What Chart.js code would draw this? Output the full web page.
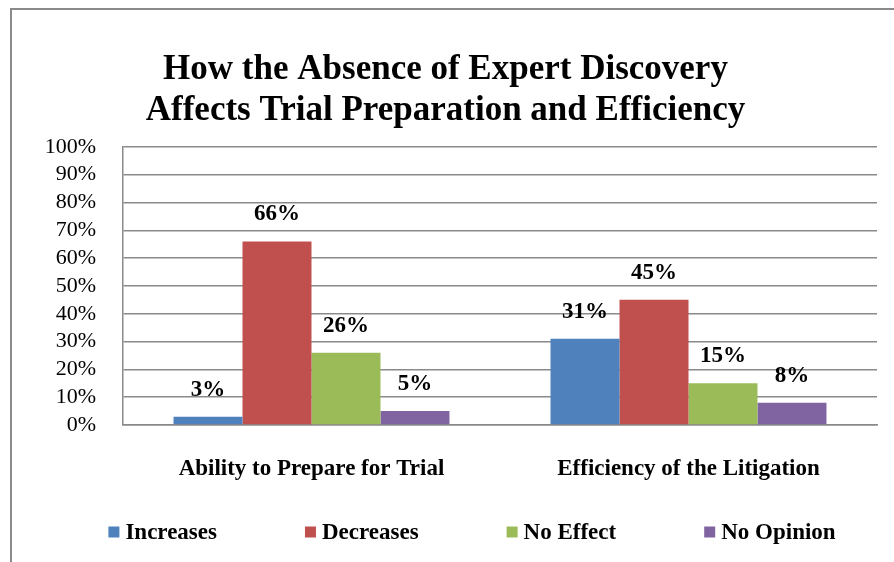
<!DOCTYPE html>
<html>
<head>
<meta charset="utf-8">
<script src="https://cdn.jsdelivr.net/npm/chart.js@4.4.0/dist/chart.umd.min.js"></script>
<style>
  html, body { margin: 0; padding: 0; background: #fff; }
  #wrap { position: relative; width: 894px; height: 562px; overflow: hidden; }
  #frame {
    position: absolute; left: 10px; top: 8px; width: 1000px; height: 700px;
    border-left: 2px solid #8a8a8a; border-top: 2px solid #8a8a8a;
  }
  #chart { position: absolute; left: 0; top: 0; }
</style>
</head>
<body>
<div id="wrap">
  <div id="frame"></div>
  <canvas id="chart" width="894" height="562"></canvas>
</div>
<script>
/************************************************************
 * DATA
 ************************************************************/
const categories = ["Ability to Prepare for Trial", "Efficiency of the Litigation"];
const seriesNames = ["Increases", "Decreases", "No Effect", "No Opinion"];
const increases = [3, 31];
const decreases = [66, 45];
const noEffect = [26, 15];
const noOpinion = [5, 8];
const tickLabels = ["0%", "10%", "20%", "30%", "40%", "50%", "60%", "70%", "80%", "90%", "100%"];

const colors = ["#4F81BD", "#C0504D", "#9BBB59", "#8064A2"];
const SERIF = "'Liberation Serif', 'Times New Roman', serif";
const GRID = "#8a8a8a";

// value labels above each bar
const barLabels = {
  id: "barLabels",
  afterDatasetsDraw(chart) {
    const ctx = chart.ctx;
    ctx.save();
    ctx.font = `bold 23px ${SERIF}`;
    ctx.fillStyle = "#000";
    ctx.textAlign = "center";
    ctx.textBaseline = "middle";
    chart.data.datasets.forEach((ds, i) => {
      chart.getDatasetMeta(i).data.forEach((bar, j) => {
        ctx.fillText(ds.data[j] + "%", bar.x, bar.y - 27);
      });
    });
    ctx.restore();
  },
};

// legend along the bottom, Excel style
const bottomLegend = {
  id: "bottomLegend",
  afterDraw(chart) {
    const ctx = chart.ctx;
    const box = 11, gap = 6, spacing = 88;
    ctx.save();
    ctx.font = `bold 23px ${SERIF}`;
    ctx.textBaseline = "middle";
    const widths = chart.data.datasets.map((ds) => box + gap + ctx.measureText(ds.label).width);
    const total = widths.reduce((a, b) => a + b, 0) + spacing * (widths.length - 1);
    let x = 472 - total / 2;
    const y = 532;
    chart.data.datasets.forEach((ds, i) => {
      ctx.fillStyle = ds.backgroundColor;
      ctx.fillRect(x, y - box / 2, box, box);
      ctx.fillStyle = "#000";
      ctx.fillText(ds.label, x + box + gap, y + 1);
      x += widths[i] + spacing;
    });
    ctx.restore();
  },
};

const seriesData = [increases, decreases, noEffect, noOpinion];

new Chart(document.getElementById("chart"), {
  type: "bar",
  data: {
    labels: categories,
    datasets: seriesNames.map((name, i) => ({
      label: name,
      data: seriesData[i],
      backgroundColor: colors[i],
      borderWidth: 0,
      categoryPercentage: 0.732,
      barPercentage: 1,
    })),
  },
  options: {
    responsive: false,
    animation: false,
    devicePixelRatio: 1,
    layout: { padding: { left: 14, right: 17, top: 0, bottom: 67 } },
    plugins: {
      legend: { display: false },
      tooltip: { enabled: false },
      title: {
        display: true,
        text: [
          "How the Absence of Expert Discovery",
          "Affects Trial Preparation and Efficiency",
        ],
        color: "#000",
        font: { family: SERIF, size: 35, weight: "bold", lineHeight: 1.17 },
        padding: { top: 49.5, bottom: 15.5 },
      },
    },
    scales: {
      x: {
        grid: { display: false, drawTicks: false },
        border: { display: true, color: GRID, width: 1.5 },
        ticks: {
          color: "#000",
          padding: 30,
          font: { family: SERIF, size: 23, weight: "bold" },
        },
        afterFit: (scale) => { scale.height = 70; },
      },
      y: {
        min: 0,
        max: 100,
        grid: { color: GRID, lineWidth: 1.5, drawTicks: false },
        border: { display: true, color: GRID, width: 1.5 },
        ticks: {
          stepSize: 10,
          autoSkip: false,
          color: "#000",
          padding: 27,
          font: { family: SERIF, size: 22, lineHeight: 1 },
          callback: (v) => tickLabels[v / 10],
        },
        afterFit: (scale) => { scale.width = 109; },
      },
    },
  },
  plugins: [barLabels, bottomLegend],
});
</script>
</body>
</html>
